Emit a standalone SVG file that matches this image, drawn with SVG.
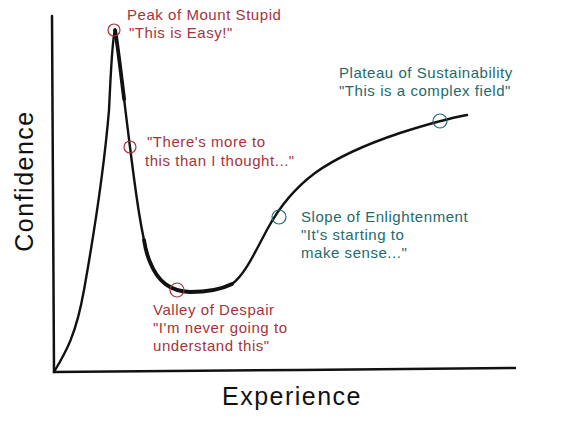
<svg xmlns="http://www.w3.org/2000/svg" width="568" height="423" viewBox="0 0 568 423">
<style>
.ax{fill:none;stroke:#111;stroke-width:2.5;stroke-linecap:round}
.cv{fill:none;stroke:#111;stroke-width:2.4;stroke-linecap:round;stroke-linejoin:round}
.thick{fill:none;stroke:#111;stroke-width:3.8;stroke-linecap:round}
.red{fill:#a8323a;font-family:"Liberation Sans",Arial,sans-serif;font-size:15px;letter-spacing:0.55px}
.teal{fill:#1e6a6c;font-family:"Liberation Sans",Arial,sans-serif;font-size:15px;letter-spacing:0.55px}
.cr{fill:none;stroke:#a8323a;stroke-width:1.2}
.ct{fill:none;stroke:#1e6a6c;stroke-width:1.2}
.lab{fill:#111;font-family:"Liberation Sans",Arial,sans-serif;font-size:25px;letter-spacing:1.5px}
</style>
<rect width="568" height="423" fill="#fff"/>
<g id="axes">
<path class="ax" d="M52,16 L54,372"/>
<path class="ax" d="M54,372 L300,370 L515,368"/>
<text class="lab" transform="translate(33,181) rotate(-90)" text-anchor="middle">Confidence</text>
<text class="lab" x="292" y="405" text-anchor="middle">Experience</text>
</g>
<g id="connectors">
<path class="cv" d="M54,372 C66,352 76,335 84,290 C92,245 104,170 109,110 C111,70 112,40 115,30 C118,45 124,100 130,147 C136,195 142,240 150,262 C158,282 170,291 190,292 C205,292 220,290 232,284 C245,275 256,250 268,228 C280,206 295,188 315,173 C340,155 370,143 400,133 C425,125 445,119 467,115"/>
<path class="thick" d="M115,30 C118,45 124,100 130,147" stroke-dasharray="70 200"/>
<path class="thick" d="M144,240 Q146,253 150,262 C158,282 170,291 190,292 C205,292 220,290 232,284"/>
</g>
<g id="peak">
<circle class="cr" cx="114" cy="30" r="6"/>
<text class="red" x="127" y="20">Peak of Mount Stupid</text>
<text class="red" x="129" y="38">"This is Easy!"</text>
</g>
<g id="more">
<circle class="cr" cx="130" cy="147" r="6"/>
<text class="red" x="147" y="147">"There's more to</text>
<text class="red" x="145" y="166">this than I thought..."</text>
</g>
<g id="valley">
<circle class="cr" cx="177" cy="290" r="7"/>
<text class="red" x="153" y="315">Valley of Despair</text>
<text class="red" x="153" y="333">"I'm never going to</text>
<text class="red" x="153" y="351">understand this"</text>
</g>
<g id="slope">
<circle class="ct" cx="279" cy="217" r="7"/>
<text class="teal" x="301" y="222">Slope of Enlightenment</text>
<text class="teal" x="301" y="240">"It's starting to</text>
<text class="teal" x="301" y="258">make sense..."</text>
</g>
<g id="plateau">
<circle class="ct" cx="440" cy="121" r="7"/>
<text class="teal" x="339" y="78">Plateau of Sustainability</text>
<text class="teal" x="339" y="96">"This is a complex field"</text>
</g>
</svg>
